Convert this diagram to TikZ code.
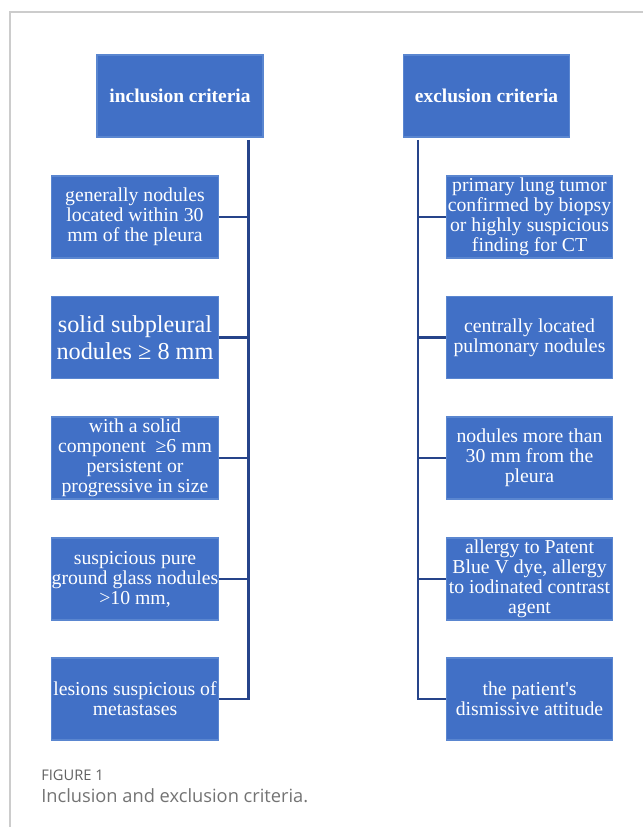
\documentclass[tikz,border=0pt]{standalone}
\usepackage{fontspec}
\setmainfont{Liberation Serif}
\newfontfamily\capfont{Open Sans}
\begin{document}
\begin{tikzpicture}[x=0.75pt,y=-0.75pt,
  box/.style={draw=boxedge,fill=boxfill,line width=0.8pt,text=white,align=center,
    minimum width=125pt,minimum height=61.5pt,inner sep=0pt,font=\fontsize{14.8}{15}\selectfont},
  head/.style={box,minimum width=124.5pt,font=\fontsize{14.6}{15}\selectfont\bfseries},
  conn/.style={draw=linecol,line width=1.6pt}]
\definecolor{boxfill}{HTML}{4170C6}
\definecolor{boxedge}{HTML}{5A86D0}
\definecolor{linecol}{HTML}{26448A}
\definecolor{framecol}{HTML}{CCCCCC}
\useasboundingbox (0,0) rectangle (643,827);
\draw[framecol,line width=0.9pt] (10,827) -- (10,12) -- (643,12);
% headers
\node[head] (inc) at (180,96) {inclusion criteria};
\node[head] (exc) at (486.5,96) {exclusion criteria};
% left boxes
\node[box] (l1) at (135,217) {generally nodules\\located within 30\\mm of the pleura};
\node[box,font=\fontsize{18.2}{20.5}\selectfont] (l2) at (135,337.5) {solid subpleural\\nodules ≥ 8 mm};
\node[box] (l3) at (135,458) {with a solid\\component \ ≥6 mm\\persistent or\\progressive in size};
\node[box] (l4) at (135,579) {suspicious pure\\ground glass nodules\\>10 mm,};
\node[box] (l5) at (135,699) {lesions suspicious of\\metastases};
% right boxes
\node[box] (r1) at (529.5,217) {primary lung tumor\\confirmed by biopsy\\or highly suspicious\\finding for CT};
\node[box] (r2) at (529.5,337.5) {centrally located\\pulmonary nodules};
\node[box] (r3) at (529.5,458) {nodules more than\\30 mm from the\\pleura};
\node[box] (r4) at (529.5,579) {allergy to Patent\\Blue V dye, allergy\\to iodinated contrast\\agent};
\node[box] (r5) at (529.5,699) {the patient\textquotesingle s\\dismissive attitude};
% connectors
\coordinate (lt) at (248.5,140);
\coordinate (rt) at (418,140);
\draw[conn] (lt) |- (l5.east);
\foreach \n in {l1,l2,l3,l4} \draw[conn] (\n.east) -- (\n.east -| lt);
\draw[conn] (rt) |- (r5.west);
\foreach \n in {r1,r2,r3,r4} \draw[conn] (\n.west) -- (\n.west -| rt);
% caption
\node[anchor=base west,inner sep=0pt,text=black!62,font=\capfont\fontsize{11}{13}\selectfont] (fig) at (41,780) {FIGURE 1};
\node[anchor=base west,inner sep=0pt,text=black!55,font=\capfont\fontsize{13.7}{16}\selectfont] (cap) at (41,802.5) {Inclusion and exclusion criteria.};
\end{tikzpicture}
\end{document}
